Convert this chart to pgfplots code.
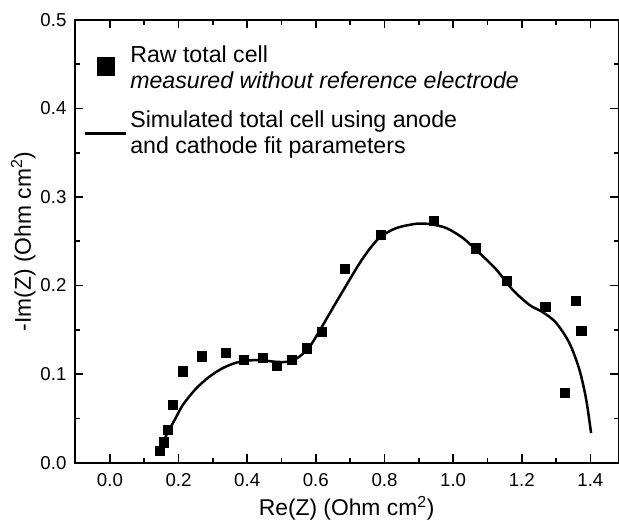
\documentclass[border=0pt]{standalone}
\usepackage{fontspec}
\setmainfont{Liberation Sans}
\usepackage{pgfplots}
\pgfplotsset{compat=1.18}
\begin{document}
\begin{tikzpicture}
\begin{axis}[
  name=ax,
  scale only axis,
  width=326.4pt, height=265.8pt,
  xmin=-0.102, xmax=1.482,
  ymin=0, ymax=0.5,
  xtick={0,0.2,...,1.4},
  ytick={0,0.1,...,0.5},
  minor x tick num=1,
  minor y tick num=1,
  tick align=inside,
  major tick length=5pt,
  minor tick length=2.8pt,
  axis line style={line width=1.1pt},
  every tick/.style={line width=1.0pt, black},
  /pgf/number format/assume math mode=true,
  /pgf/number format/fixed,
  /pgf/number format/fixed zerofill,
  /pgf/number format/precision=1,
  tick label style={font=\fontsize{11.2pt}{13.5pt}\selectfont},
  x tick label style={yshift=-3.2pt},
  y tick label style={xshift=-1.6pt},
  xlabel={Re(Z) (Ohm cm\textsuperscript{2})},
  ylabel={-Im(Z) (Ohm cm\textsuperscript{2})},
  label style={font=\fontsize{13.7pt}{16.5pt}\selectfont},
  xlabel style={at={(axis description cs:0.5,-0.1204)}, anchor=base},
  ylabel style={at={(axis description cs:-0.081,0.5)}, anchor=base},
  legend cell align=left,
  legend style={at={(axis description cs:0.006,0.955)}, anchor=north west, draw=none, fill=none,
    font=\fontsize{13.9pt}{15.6pt}\selectfont,
    nodes={align=left, anchor=west, inner sep=1.6pt},
    row sep=8.5pt, column sep=0pt},
]
\addplot[only marks, mark=square*, mark size=2.8pt, draw=black, fill=black,
  legend image code/.code={\draw[mark=square*, mark size=5.2pt, draw=black, fill=black] plot coordinates {(12.5pt,1.5pt)};}]
coordinates {
(0.146,0.0135) (0.157,0.023) (0.169,0.037) (0.183,0.065) (0.212,0.103)
(0.268,0.120) (0.338,0.124) (0.390,0.116) (0.445,0.118) (0.486,0.109)
(0.530,0.116) (0.573,0.129) (0.617,0.148) (0.684,0.219) (0.790,0.257)
(0.943,0.273) (1.066,0.242) (1.156,0.205) (1.269,0.176) (1.325,0.079)
(1.357,0.183) (1.374,0.149)
};
\addlegendentry{Raw total cell\\\textit{measured without reference electrode}}
\addplot[smooth, line width=1.5pt, black, mark=none,
  legend image code/.code={\draw[line width=1.5pt, black] (0pt,0pt) -- (25pt,0pt);}]
coordinates {
(0.155,0.021) (0.165,0.0316) (0.189,0.0485) (0.213,0.0655) (0.252,0.084)
(0.291,0.0974) (0.330,0.107) (0.369,0.113) (0.408,0.1155) (0.446,0.1155)
(0.485,0.1138) (0.524,0.1142) (0.553,0.120) (0.582,0.131) (0.611,0.149)
(0.650,0.175) (0.689,0.2005) (0.728,0.2255) (0.760,0.2430) (0.790,0.2555)
(0.835,0.2650) (0.893,0.2698) (0.932,0.2694) (0.980,0.265) (1.029,0.2536)
(1.077,0.2367) (1.126,0.218) (1.174,0.195) (1.223,0.178) (1.261,0.170)
(1.300,0.158) (1.339,0.135) (1.368,0.105) (1.388,0.071) (1.402,0.0335)
};
\addlegendentry{Simulated total cell using anode\\and cathode fit parameters}
\end{axis}
\path (ax.south west) ++(-45pt,-36pt) coordinate (bbA);
\path (ax.north east) ++(0.3pt,12pt) coordinate (bbB);
\pgfresetboundingbox
\path[use as bounding box] (bbA) rectangle (bbB);
\end{tikzpicture}
\end{document}
